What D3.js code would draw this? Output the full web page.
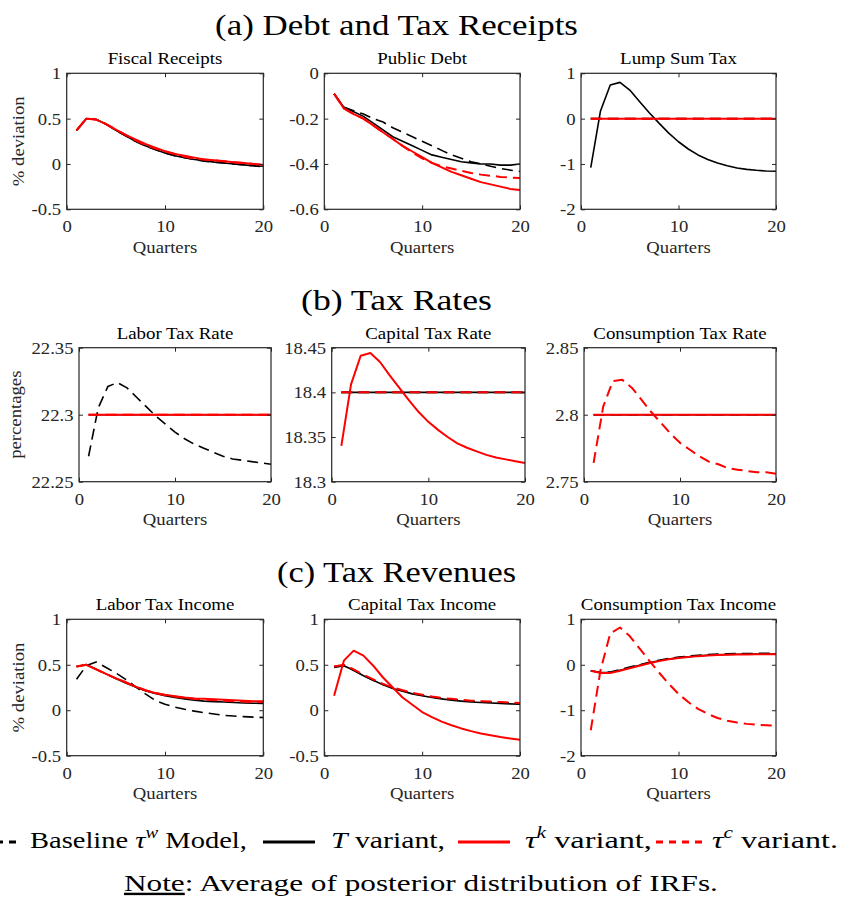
<!DOCTYPE html>
<html>
<head>
<meta charset="utf-8">
<script src="https://cdn.jsdelivr.net/npm/d3@7"></script>
<style>
body { margin: 0; background: #fff; }
svg { display: block; font-family: "Liberation Serif", "Times New Roman", serif; }
</style>
</head>
<body>
<div id="chart"></div>
<script>
// Quarters on the x axis
var quarters = [1,2,3,4,5,6,7,8,9,10,11,12,13,14,15,16,17,18,19,20];
var xTicks = [0, 10, 20];

// Tick values
var devTicks = [-0.5, 0, 0.5, 1];
var debtTicks = [-0.6, -0.4, -0.2, 0];
var lumpTicks = [-2, -1, 0, 1];
var laborRateTicks = [22.25, 22.3, 22.35];
var capRateTicks = [18.3, 18.35, 18.4, 18.45];
var consRateTicks = [2.75, 2.8, 2.85];

// (a) Fiscal Receipts
var recBase = [0.37,0.50,0.49,0.44,0.37,0.31,0.25,0.20,0.16,0.12,0.09,0.07,0.05,0.03,0.02,0.01,0.00,-0.01,-0.02,-0.03];
var recT    = [0.37,0.50,0.49,0.44,0.37,0.31,0.25,0.20,0.16,0.12,0.09,0.07,0.05,0.035,0.02,0.01,0.00,-0.01,-0.02,-0.025];
var recTk   = [0.37,0.50,0.49,0.44,0.38,0.32,0.27,0.22,0.18,0.14,0.11,0.09,0.07,0.05,0.04,0.03,0.02,0.01,0.00,-0.01];
var recTc   = [0.37,0.50,0.49,0.44,0.38,0.32,0.26,0.21,0.17,0.14,0.11,0.08,0.06,0.05,0.04,0.03,0.02,0.01,0.00,-0.01];

// (a) Public Debt
var debtBase = [-0.09,-0.15,-0.165,-0.18,-0.20,-0.215,-0.24,-0.26,-0.28,-0.30,-0.32,-0.34,-0.36,-0.375,-0.39,-0.40,-0.41,-0.42,-0.427,-0.433];
var debtT    = [-0.09,-0.15,-0.17,-0.19,-0.22,-0.25,-0.28,-0.30,-0.32,-0.34,-0.36,-0.37,-0.38,-0.39,-0.395,-0.40,-0.40,-0.405,-0.405,-0.40];
var debtTk   = [-0.09,-0.155,-0.18,-0.20,-0.23,-0.26,-0.29,-0.32,-0.345,-0.37,-0.395,-0.415,-0.435,-0.45,-0.465,-0.48,-0.49,-0.50,-0.51,-0.515];
var debtTc   = [-0.09,-0.155,-0.18,-0.20,-0.23,-0.26,-0.29,-0.32,-0.35,-0.375,-0.395,-0.41,-0.42,-0.43,-0.44,-0.447,-0.452,-0.457,-0.46,-0.462];

// (a) Lump Sum Tax
var lumpBase = [0,0,0,0,0,0,0,0,0,0,0,0,0,0,0,0,0,0,0,0];
var lumpT    = [-1.08,0.17,0.74,0.80,0.63,0.38,0.13,-0.10,-0.32,-0.51,-0.67,-0.80,-0.90,-0.98,-1.04,-1.09,-1.12,-1.14,-1.155,-1.16];
var lumpTk   = [0,0,0,0,0,0,0,0,0,0,0,0,0,0,0,0,0,0,0,0];
var lumpTc   = [0,0,0,0,0,0,0,0,0,0,0,0,0,0,0,0,0,0,0,0];

// (b) Labor Tax Rate
var lrBase = [22.269,22.305,22.321,22.324,22.320,22.313,22.306,22.299,22.293,22.287,22.282,22.278,22.275,22.272,22.269,22.267,22.266,22.265,22.264,22.263];
var lrT    = [22.3,22.3,22.3,22.3,22.3,22.3,22.3,22.3,22.3,22.3,22.3,22.3,22.3,22.3,22.3,22.3,22.3,22.3,22.3,22.3];
var lrTk   = [22.3,22.3,22.3,22.3,22.3,22.3,22.3,22.3,22.3,22.3,22.3,22.3,22.3,22.3,22.3,22.3,22.3,22.3,22.3,22.3];
var lrTc   = [22.3,22.3,22.3,22.3,22.3,22.3,22.3,22.3,22.3,22.3,22.3,22.3,22.3,22.3,22.3,22.3,22.3,22.3,22.3,22.3];

// (b) Capital Tax Rate
var krBase = [18.4,18.4,18.4,18.4,18.4,18.4,18.4,18.4,18.4,18.4,18.4,18.4,18.4,18.4,18.4,18.4,18.4,18.4,18.4,18.4];
var krT    = [18.4,18.4,18.4,18.4,18.4,18.4,18.4,18.4,18.4,18.4,18.4,18.4,18.4,18.4,18.4,18.4,18.4,18.4,18.4,18.4];
var krTk   = [18.340,18.409,18.441,18.444,18.434,18.419,18.405,18.391,18.378,18.367,18.358,18.350,18.343,18.338,18.334,18.330,18.327,18.325,18.323,18.321];
var krTc   = [18.4,18.4,18.4,18.4,18.4,18.4,18.4,18.4,18.4,18.4,18.4,18.4,18.4,18.4,18.4,18.4,18.4,18.4,18.4,18.4];

// (b) Consumption Tax Rate
var crBase = [2.8,2.8,2.8,2.8,2.8,2.8,2.8,2.8,2.8,2.8,2.8,2.8,2.8,2.8,2.8,2.8,2.8,2.8,2.8,2.8];
var crT    = [2.8,2.8,2.8,2.8,2.8,2.8,2.8,2.8,2.8,2.8,2.8,2.8,2.8,2.8,2.8,2.8,2.8,2.8,2.8,2.8];
var crTk   = [2.8,2.8,2.8,2.8,2.8,2.8,2.8,2.8,2.8,2.8,2.8,2.8,2.8,2.8,2.8,2.8,2.8,2.8,2.8,2.8];
var crTc   = [2.764,2.806,2.825,2.826,2.820,2.811,2.802,2.794,2.786,2.779,2.774,2.769,2.765,2.763,2.760,2.759,2.758,2.757,2.757,2.756];

// (c) Labor Tax Income
var liBase = [0.34,0.49,0.53,0.47,0.41,0.34,0.26,0.18,0.11,0.065,0.035,0.01,-0.01,-0.027,-0.042,-0.056,-0.064,-0.07,-0.076,-0.08];
var liT    = [0.48,0.50,0.45,0.40,0.35,0.30,0.255,0.215,0.185,0.16,0.14,0.125,0.11,0.10,0.095,0.09,0.085,0.08,0.077,0.075];
var liTk   = [0.48,0.50,0.45,0.40,0.35,0.31,0.26,0.22,0.19,0.17,0.155,0.14,0.13,0.125,0.12,0.115,0.11,0.105,0.10,0.10];
var liTc   = [0.48,0.50,0.45,0.40,0.35,0.305,0.26,0.22,0.19,0.165,0.15,0.135,0.125,0.12,0.11,0.105,0.10,0.095,0.09,0.09];

// (c) Capital Tax Income
var kiBase = [0.48,0.49,0.44,0.38,0.33,0.285,0.245,0.215,0.185,0.165,0.145,0.13,0.12,0.11,0.10,0.095,0.09,0.085,0.08,0.075];
var kiT    = [0.47,0.49,0.44,0.38,0.33,0.28,0.24,0.21,0.18,0.16,0.14,0.125,0.11,0.10,0.09,0.085,0.08,0.075,0.07,0.065];
var kiTk   = [0.16,0.545,0.655,0.60,0.49,0.36,0.25,0.14,0.06,-0.02,-0.075,-0.125,-0.165,-0.20,-0.23,-0.255,-0.275,-0.295,-0.31,-0.325];
var kiTc   = [0.48,0.50,0.45,0.39,0.34,0.29,0.25,0.22,0.19,0.17,0.15,0.135,0.125,0.115,0.105,0.10,0.095,0.09,0.085,0.08];

// (c) Consumption Tax Income
var ciBase = [-0.13,-0.17,-0.16,-0.11,-0.05,0.0,0.055,0.10,0.14,0.17,0.19,0.21,0.225,0.235,0.24,0.245,0.248,0.25,0.25,0.25];
var ciT    = [-0.13,-0.17,-0.17,-0.12,-0.065,-0.01,0.045,0.09,0.125,0.155,0.175,0.195,0.21,0.22,0.225,0.23,0.232,0.234,0.235,0.235];
var ciTk   = [-0.13,-0.18,-0.18,-0.13,-0.075,-0.02,0.035,0.08,0.12,0.15,0.17,0.19,0.205,0.215,0.22,0.225,0.228,0.23,0.23,0.23];
var ciTc   = [-1.44,-0.12,0.69,0.82,0.63,0.36,0.09,-0.17,-0.42,-0.64,-0.82,-0.97,-1.08,-1.17,-1.23,-1.27,-1.30,-1.32,-1.33,-1.34];

function init() {

	var w = 843;
	var h = 899;
	var axisColor = "#262626";

	// line styles: baseline, T, tau^k, tau^c
	var styles = [
		{ color: "#000", width: 1.6, dash: "11,6" },
		{ color: "#000", width: 1.6, dash: null },
		{ color: "#ff0000", width: 2, dash: null },
		{ color: "#ff0000", width: 2, dash: "11,6" }
	];

	// plot boxes per row (top, bottom) and per column (left, right)
	var rowsY = [[73.3, 209.3], [347.7, 481.7], [619.3, 755.7]];
	var colsOuter = [[66.7, 263.3], [324.3, 520], [581, 776]];
	var colsMid = [[79, 271], [331.7, 525], [584, 776]];

	var panels = [
		{ title: "Fiscal Receipts", row: 0, col: 0, dom: [-0.5, 1], ticks: devTicks, ylab: "% deviation", series: [recBase, recT, recTk, recTc] },
		{ title: "Public Debt", row: 0, col: 1, dom: [-0.6, 0], ticks: debtTicks, series: [debtBase, debtT, debtTk, debtTc] },
		{ title: "Lump Sum Tax", row: 0, col: 2, dom: [-2, 1], ticks: lumpTicks, series: [lumpBase, lumpT, lumpTk, lumpTc] },
		{ title: "Labor Tax Rate", row: 1, col: 0, dom: [22.25, 22.35], ticks: laborRateTicks, ylab: "percentages", series: [lrBase, lrT, lrTk, lrTc] },
		{ title: "Capital Tax Rate", row: 1, col: 1, dom: [18.3, 18.45], ticks: capRateTicks, series: [krBase, krT, krTk, krTc] },
		{ title: "Consumption Tax Rate", row: 1, col: 2, dom: [2.75, 2.85], ticks: consRateTicks, series: [crBase, crT, crTk, crTc] },
		{ title: "Labor Tax Income", row: 2, col: 0, dom: [-0.5, 1], ticks: devTicks, ylab: "% deviation", series: [liBase, liT, liTk, liTc] },
		{ title: "Capital Tax Income", row: 2, col: 1, dom: [-0.5, 1], ticks: devTicks, series: [kiBase, kiT, kiTk, kiTc] },
		{ title: "Consumption Tax Income", row: 2, col: 2, dom: [-2, 1], ticks: lumpTicks, series: [ciBase, ciT, ciTk, ciTc] }
	];

	var svg = d3.select("#chart")
		.append("svg")
		.attr("width", w)
		.attr("height", h);

	// text with a horizontal stretch (the figure is wider than its fonts)
	function label(g, x, y, s, size, sx, anchor) {
		return g.append("text")
			.attr("transform", "translate(" + x + "," + y + ") scale(" + sx + ",1)")
			.attr("text-anchor", anchor || "middle")
			.attr("font-size", size)
			.attr("fill", "#000")
			.text(s);
	}

	// squeeze/stretch a text to a target width
	function fit(t, x, y, target) {
		var len = t.node().getComputedTextLength();
		t.attr("transform", "translate(" + x + "," + y + ") scale(" + (target / len) + ",1)");
	}

	panels.forEach(function(p) {
		var cx = p.row === 1 ? colsMid[p.col] : colsOuter[p.col];
		var cy = rowsY[p.row];

		var xScale = d3.scaleLinear().domain([0, 20]).range(cx);
		var yScale = d3.scaleLinear().domain(p.dom).range([cy[1], cy[0]]);

		var g = svg.append("g");

		// data lines
		p.series.forEach(function(vals, i) {
			var st = styles[i];
			var line = d3.line()
				.x(function(d, j) { return xScale(quarters[j]); })
				.y(function(d) { return yScale(d); });
			g.append("path")
				.datum(vals)
				.attr("d", line)
				.attr("fill", "none")
				.attr("stroke", st.color)
				.attr("stroke-width", st.width)
				.attr("stroke-dasharray", st.dash)
				.attr("stroke-linejoin", "round");
		});

		// axes, ticks pointing inward
		var bottom = g.append("g")
			.attr("transform", "translate(0," + cy[1] + ")")
			.call(d3.axisBottom(xScale).tickValues(xTicks).tickSize(-4).tickPadding(11).tickFormat(String));
		var left = g.append("g")
			.attr("transform", "translate(" + cx[0] + ",0)")
			.call(d3.axisLeft(yScale).tickValues(p.ticks).tickSize(-4).tickPadding(5).tickFormat(String));
		var top = g.append("g")
			.attr("transform", "translate(0," + cy[0] + ")")
			.call(d3.axisTop(xScale).tickValues(xTicks).tickSize(-4).tickFormat(""));
		var right = g.append("g")
			.attr("transform", "translate(" + cx[1] + ",0)")
			.call(d3.axisRight(yScale).tickValues(p.ticks).tickSize(-4).tickFormat(""));

		[bottom, left, top, right].forEach(function(a) {
			a.select(".domain").remove();
			a.selectAll("line").attr("stroke", axisColor).attr("stroke-width", 1);
			a.selectAll("text")
				.attr("font-family", "Liberation Serif, Times New Roman, serif")
				.attr("font-size", 17)
				.attr("fill", axisColor)
				.attr("transform", "scale(1.1,1)");
		});

		g.append("rect")
			.attr("x", cx[0])
			.attr("y", cy[0])
			.attr("width", cx[1] - cx[0])
			.attr("height", cy[1] - cy[0])
			.attr("fill", "none")
			.attr("stroke", axisColor)
			.attr("stroke-width", 1.2);

		label(g, (cx[0] + cx[1]) / 2, cy[0] - 9, p.title, 16, 1.18);
		label(g, (cx[0] + cx[1]) / 2, cy[1] + 43.5, "Quarters", 17, 1.1).attr("fill", axisColor);

		if (p.ylab) {
			var lx = p.row === 1 ? 21 : 24;
			g.append("text")
				.attr("transform", "translate(" + lx + "," + ((cy[0] + cy[1]) / 2) + ") rotate(-90) scale(1.1,1)")
				.attr("text-anchor", "middle")
				.attr("font-size", 17)
				.attr("fill", axisColor)
				.text(p.ylab);
		}
	});

	// section headings
	var heads = [["(a) Debt and Tax Receipts", 35, 363], ["(b) Tax Rates", 310, 191], ["(c) Tax Revenues", 582, 239]];
	heads.forEach(function(hd) {
		var t = svg.append("text").attr("text-anchor", "middle").attr("font-size", 29).text(hd[0]);
		fit(t, 396.5, hd[1], hd[2]);
	});

	// legend line
	var ly = 842;
	var legLines = [
		{ x1: -4, x2: 16, st: styles[0] },
		{ x1: 263, x2: 315, st: styles[1] },
		{ x1: 458, x2: 510, st: styles[2] },
		{ x1: 656, x2: 702, st: styles[3] }
	];
	legLines.forEach(function(l) {
		svg.append("line")
			.attr("x1", l.x1).attr("x2", l.x2)
			.attr("y1", ly).attr("y2", ly)
			.attr("stroke", l.st.color)
			.attr("stroke-width", 3)
			.attr("stroke-dasharray", l.st.dash ? "7,6" : null);
	});

	var ty = 848;
	function legText(parts, x, target) {
		var t = svg.append("text").attr("font-size", 24);
		parts.forEach(function(pt) {
			var s = t.append("tspan").text(pt[0]);
			if (pt[1] === "i") s.attr("font-style", "italic");
			if (pt[1] === "sup") s.attr("font-style", "italic").attr("font-size", 16).attr("dy", -10);
			if (pt[1] === "after") s.attr("dy", 10);
		});
		fit(t, x, ty, target);
	}
	legText([["Baseline "], ["τ", "i"], ["w", "sup"], [" Model,", "after"]], 30, 217);
	legText([["T", "i"], [" variant,"]], 331, 114);
	legText([["τ", "i"], ["k", "sup"], [" variant,", "after"]], 525, 127);
	legText([["τ", "i"], ["c", "sup"], [" variant.", "after"]], 712, 126);

	// note
	var note = svg.append("text").attr("font-size", 24);
	note.append("tspan").attr("text-decoration", "underline").text("Note");
	note.append("tspan").text(": Average of posterior distribution of IRFs.");
	fit(note, 124, 891, 594);
}

init();
</script>
</body>
</html>
